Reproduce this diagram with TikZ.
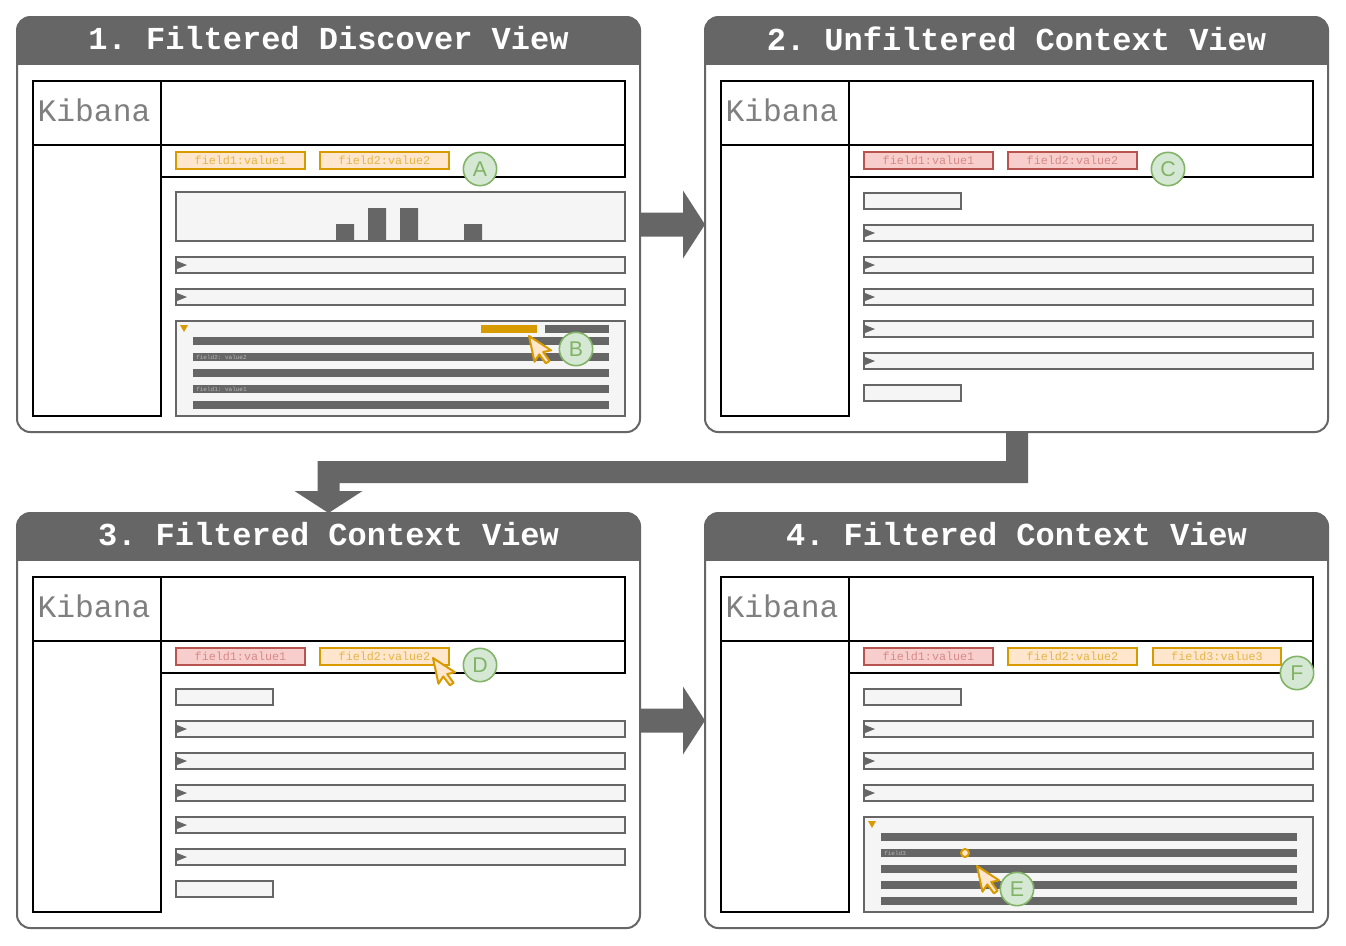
\documentclass[tikz,border=0pt]{standalone}
\usepackage{fontspec}
\setmainfont{Liberation Sans}
\setsansfont{Liberation Sans}
\setmonofont{Liberation Mono}
\usetikzlibrary{calc}

\definecolor{hdr}{HTML}{666666}
\definecolor{pane}{HTML}{F5F5F5}
\definecolor{orfill}{HTML}{FFE6CC}
\definecolor{ordraw}{HTML}{D79B00}
\definecolor{rdfill}{HTML}{F8CECC}
\definecolor{rddraw}{HTML}{B85450}
\definecolor{gnfill}{HTML}{D5E8D4}
\definecolor{gndraw}{HTML}{82B366}
\definecolor{logogray}{HTML}{7F7F7F}
\colorlet{ortext}{ordraw!65!orfill}
\colorlet{rdtext}{rddraw!55!rdfill}

% frame of one panel: rounded body, dark header with title, Kibana layout
\newcommand\panelframe[2]{%
  \node[panelbody] (#1) at (328.5,224.5) {};
  \begin{scope}
    \clip (10,10) rectangle (650,64);
    \fill[hdr, rounded corners=10pt] (17,17) rectangle (640,110);
  \end{scope}
  \node[titletext] (#1-title) at (328.5,38.5) {#2};
  \draw[kibframe] (33,81) rectangle (161,416);
  \draw[kibframe] (33,145) -- (161,145);
  \draw[kibframe] (161,81) rectangle (625,145);
  \draw[kibframe] (161,145) rectangle (625,177);
  \node[kibtext] (#1-logo) at (94,110.5) {Kibana};
}
% one collapsed document row, top edge at #1
\newcommand\docrow[1]{%
  \draw[rowbox] (176,#1) rectangle (625,{#1+16});
  \fill[hdr] (177,{#1+4}) -- (187,{#1+8}) -- (177,{#1+12}) -- cycle;
}
% expanded document with five field lines
\newcommand\docopen{%
  \draw[rowbox] (176,321) rectangle (625,416);
  \fill[ordraw] (180,325) -- (188,325) -- (184,332) -- cycle;
  \foreach \yy in {337,353,369,385,401}{\fill[hdr] (193,\yy) rectangle (609,\yy+8);}
}

\begin{document}
\begin{tikzpicture}[x=0.75pt,y=-0.75pt,
  panelbody/.style={rectangle, draw=hdr, fill=white, line width=1.5pt,
    rounded corners=10pt, minimum width=467.25pt, minimum height=311.25pt,
    inner sep=0pt, outer sep=0pt},
  titletext/.style={text=white, inner sep=0pt,
    font=\ttfamily\bfseries\frenchspacing\fontsize{24}{24}\selectfont},
  kibframe/.style={draw=black, line width=1.6pt},
  kibtext/.style={text=logogray, inner sep=0pt,
    font=\ttfamily\fontsize{23.5}{24}\selectfont},
  rowbox/.style={draw=hdr, fill=pane, line width=1.5pt},
  pillbase/.style={rectangle, inner sep=0pt, minimum width=96.75pt,
    minimum height=12.75pt, line width=1.5pt,
    font=\ttfamily\fontsize{8.8}{9}\selectfont},
  orpill/.style={pillbase, fill=orfill, draw=ordraw, text=ortext},
  rdpill/.style={pillbase, fill=rdfill, draw=rddraw, text=rdtext},
  callout/.style={circle, minimum size=25pt, inner sep=0pt, fill=gnfill,
    draw=gndraw, line width=1.2pt, text=gndraw,
    font=\sffamily\fontsize{16}{16}\selectfont},
  tinytext/.style={anchor=west, inner sep=0pt, text=black!28,
    font=\ttfamily\fontsize{4.5}{5}\selectfont},
  mousepointer/.pic={
    \filldraw[fill=orfill, draw=ordraw, line width=1.5pt, line join=round]
      (0,0) -- (0,17) -- (4,13) -- (7,19.5) -- (9.6,18.4) -- (6.8,12) -- (12,12) -- cycle;
  }
]
\useasboundingbox (0,0) rectangle (1346,946);
\fill[white] (0,0) rectangle (1346,946);

% ---- 1. Filtered Discover View
\begin{scope}
  \panelframe{p1}{1. Filtered Discover View}
  \node[orpill] (p1-f1) at (240.5,160.5) {field1:value1};
  \node[orpill] (p1-f2) at (384.5,160.5) {field2:value2};
  \draw[rowbox] (176,192) rectangle (625,241);
  \fill[hdr] (336,224) rectangle (354,241) (368,208) rectangle (386,241)
             (400,208) rectangle (418,241) (464,224) rectangle (482,241);
  \docrow{257}
  \docrow{289}
  \docopen
  \fill[ordraw] (481,325) rectangle (537,333);
  \fill[hdr] (545,325) rectangle (609,333);
  \node[tinytext] (p1-t2) at (196,357) {field2: value2};
  \node[tinytext] (p1-t1) at (196,389) {field1: value1};
  \pic[scale=1.55, rotate=12] at (529,336) {mousepointer};
  \node[callout] (cA) at (480,169) {A};
  \node[callout] (cB) at (576,349) {B};
\end{scope}

% ---- 2. Unfiltered Context View
\begin{scope}[shift={(688,0)}]
  \panelframe{p2}{2. Unfiltered Context View}
  \node[rdpill] (p2-f1) at (240.5,160.5) {field1:value1};
  \node[rdpill] (p2-f2) at (384.5,160.5) {field2:value2};
  \draw[rowbox] (176,193) rectangle (273,209);
  \foreach \r in {225,257,289,321,353}{\docrow{\r}}
  \draw[rowbox] (176,385) rectangle (273,401);
  \node[callout] (cC) at (480,169) {C};
\end{scope}

% ---- 3. Filtered Context View
\begin{scope}[shift={(0,496)}]
  \panelframe{p3}{3. Filtered Context View}
  \node[rdpill] (p3-f1) at (240.5,160.5) {field1:value1};
  \node[orpill] (p3-f2) at (384.5,160.5) {field2:value2};
  \draw[rowbox] (176,193) rectangle (273,209);
  \foreach \r in {225,257,289,321,353}{\docrow{\r}}
  \draw[rowbox] (176,385) rectangle (273,401);
  \pic[scale=1.55, rotate=12] at (433,162) {mousepointer};
  \node[callout] (cD) at (480,169) {D};
\end{scope}

% ---- 4. Filtered Context View
\begin{scope}[shift={(688,496)}]
  \panelframe{p4}{4. Filtered Context View}
  \node[rdpill] (p4-f1) at (240.5,160.5) {field1:value1};
  \node[orpill] (p4-f2) at (384.5,160.5) {field2:value2};
  \node[orpill, minimum width=96pt] (p4-f3) at (529,160.5) {field3:value3};
  \draw[rowbox] (176,193) rectangle (273,209);
  \foreach \r in {225,257,289}{\docrow{\r}}
  \docopen
  \node[tinytext] (p4-t3) at (196,357) {field3};
  \filldraw[fill=orfill, draw=ordraw, line width=1.5pt] (277,357) circle[radius=3pt];
  \pic[scale=1.55, rotate=12] at (289,370) {mousepointer};
  \node[callout] (cE) at (329,393) {E};
  \node[callout] (cF) at (609,177) {F};
\end{scope}

% ---- block arrows between the panels
\fill[hdr] ($(p1.east)+(0,-12)$) -- ($(p2.west)+(-22,-12)$) -- ($(p2.west)+(-22,-34)$)
  -- (p2.west) -- ($(p2.west)+(-22,34)$) -- ($(p2.west)+(-22,12)$) -- ($(p1.east)+(0,12)$) -- cycle;
\fill[hdr] ($(p3.east)+(0,-12)$) -- ($(p4.west)+(-22,-12)$) -- ($(p4.west)+(-22,-34)$)
  -- (p4.west) -- ($(p4.west)+(-22,34)$) -- ($(p4.west)+(-22,12)$) -- ($(p3.east)+(0,12)$) -- cycle;
\fill[hdr] ($(p2.south)+(11.5,0)$) -- ($(p2.south)+(11.5,51)$) -- ($(p3.north)+(11,-30)$)
  -- ($(p3.north)+(11,-22)$) -- ($(p3.north)+(34,-22)$) -- (p3.north)
  -- ($(p3.north)+(-34,-22)$) -- ($(p3.north)+(-11,-22)$) -- ($(p3.north)+(-11,-52)$)
  -- ($(p2.south)+(-10.5,29)$) -- ($(p2.south)+(-10.5,0)$) -- cycle;
\end{tikzpicture}
\end{document}
